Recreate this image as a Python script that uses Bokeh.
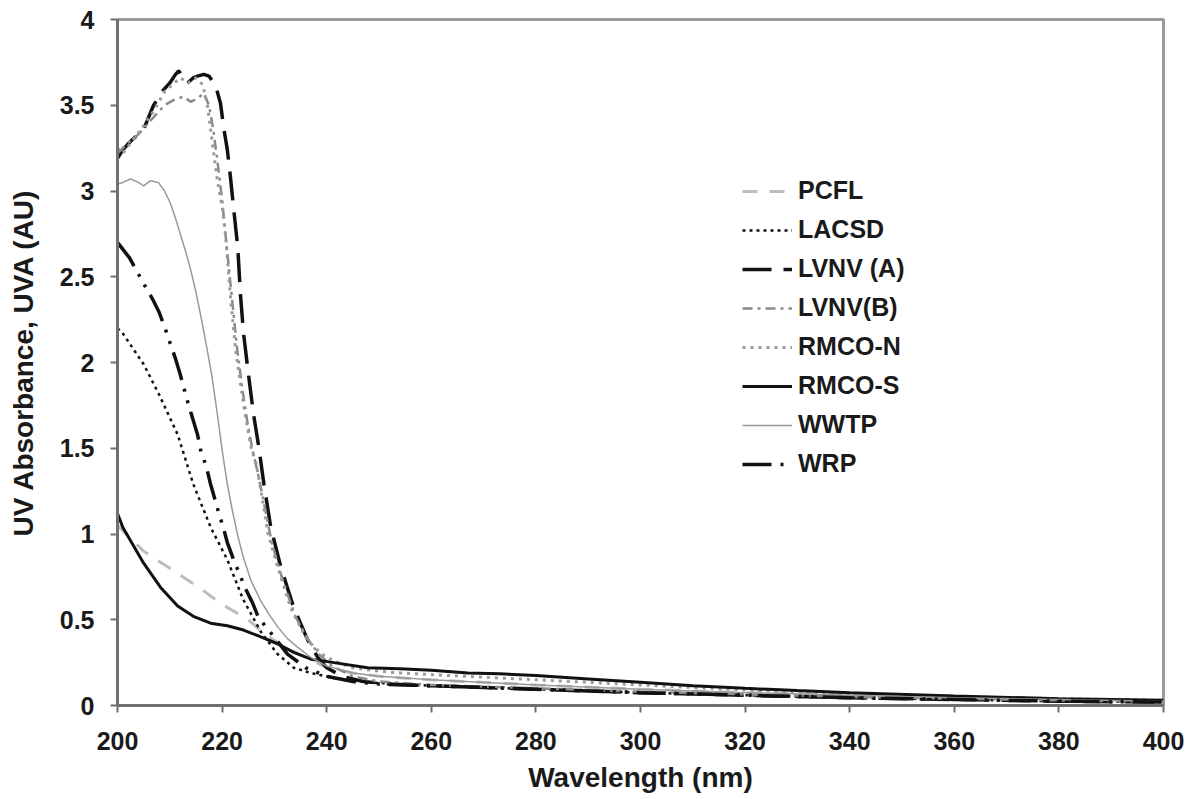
from bokeh.plotting import figure
from bokeh.models import Range1d, FixedTicker, Legend, LegendItem
from bokeh.embed import file_html
from bokeh.resources import INLINE

# ---- data ----
pcfl_x = [200, 202, 205, 210, 215, 220, 225, 228, 232, 236, 240, 245, 250, 260, 280, 300, 320, 340, 360, 380, 400]
pcfl_y = [1.05, 0.99, 0.90, 0.80, 0.70, 0.59, 0.50, 0.42, 0.34, 0.28, 0.22, 0.19, 0.17, 0.15, 0.12, 0.095, 0.075, 0.06, 0.045, 0.035, 0.025]

lacsd_x = [200, 201, 203, 205, 208, 211.5, 214.5, 217.8, 221, 224, 227.4, 230.6, 233.7, 236.9, 241.4, 247.8, 254, 260, 280, 300, 320, 340, 360, 380, 400]
lacsd_y = [2.2, 2.17, 2.08, 1.99, 1.81, 1.58, 1.29, 1.04, 0.85, 0.62, 0.43, 0.30, 0.22, 0.19, 0.16, 0.135, 0.125, 0.115, 0.095, 0.075, 0.06, 0.045, 0.035, 0.025, 0.02]

lvnva_x = [200, 201, 202.5, 204, 205, 206.9, 208.8, 210, 211.1, 211.7, 212.5, 213.4, 214.5, 215.3, 216.5, 217.5, 218.8, 219.7, 220.3, 221,
           221.6, 222.2, 223, 223.5, 224.1, 225, 226, 227, 228, 229.3, 231.2, 233.7, 236.4, 238.3, 240, 243, 247, 252, 260, 280,
           300, 320, 340, 360, 380, 400]
lvnva_y = [3.19, 3.24, 3.29, 3.33, 3.36, 3.50, 3.59, 3.63, 3.68, 3.70, 3.67, 3.63, 3.66, 3.67, 3.68, 3.67, 3.61, 3.51, 3.37, 3.24,
           3.08, 2.90, 2.67, 2.40, 2.17, 1.94, 1.70, 1.51, 1.29, 1.04, 0.81, 0.57, 0.38, 0.28, 0.22, 0.17, 0.14, 0.125, 0.115, 0.095,
           0.075, 0.06, 0.045, 0.035, 0.025, 0.02]

lvnvb_x = [200, 202, 204, 206, 207.8, 209, 210.7, 212.6, 214, 215.3, 216.5, 217.5, 218.3, 219, 220, 220.8, 221.8, 222.8, 223.8, 224.8,
           225.8, 226.8, 228, 229.5, 231.5, 234, 236.5, 238.5, 241, 245, 250, 260, 280, 300, 320, 340, 360, 380, 400]
lvnvb_y = [3.22, 3.28, 3.33, 3.40, 3.46, 3.50, 3.53, 3.55, 3.52, 3.54, 3.57, 3.50, 3.36, 3.20, 2.95, 2.70, 2.40, 2.10, 1.86, 1.66,
           1.49, 1.36, 1.18, 0.95, 0.74, 0.52, 0.38, 0.30, 0.23, 0.17, 0.14, 0.12, 0.10, 0.08, 0.065, 0.05, 0.04, 0.03, 0.02]

rmcon_x = [200, 201, 203, 205, 207, 209, 210.5, 212, 213.5, 215, 216.3, 217.2, 217.8, 218.4, 219.1, 220.1, 220.7, 221.6, 222.6, 223.5,
           224.5, 225.5, 226.6, 227.4, 228.7, 230.6, 233.1, 235.6, 237, 239, 241.4, 245, 250, 254, 260, 270, 280, 300, 320, 340,
           360, 380, 400]
rmcon_y = [3.25, 3.22, 3.30, 3.38, 3.47, 3.58, 3.62, 3.66, 3.63, 3.66, 3.62, 3.50, 3.36, 3.22, 3.06, 2.89, 2.73, 2.38, 2.07, 1.88,
           1.68, 1.51, 1.40, 1.26, 1.01, 0.81, 0.57, 0.42, 0.36, 0.30, 0.26, 0.22, 0.20, 0.19, 0.18, 0.165, 0.15, 0.12, 0.09, 0.07,
           0.05, 0.04, 0.03]

rmcos_x = [200, 201, 202.5, 205, 208.2, 211.5, 214.5, 217.8, 221, 224.1, 227.4, 230.6, 233.7, 237, 241.4, 247.8, 254, 260, 267, 273,
           280, 290, 300, 310, 320, 330, 340, 360, 380, 400]
rmcos_y = [1.12, 1.04, 0.96, 0.83, 0.69, 0.58, 0.52, 0.48, 0.465, 0.44, 0.40, 0.36, 0.31, 0.27, 0.25, 0.22, 0.215, 0.205, 0.19, 0.185,
           0.175, 0.155, 0.135, 0.115, 0.10, 0.087, 0.075, 0.055, 0.04, 0.03]

wwtp_x = [200, 201, 202.5, 204, 205, 206.3, 207.8, 209, 210.1, 211, 212, 213, 214, 215, 216, 217, 218, 219, 220, 221,
          222, 223, 224, 225.5, 227.4, 229, 230.6, 232.5, 234.4, 237, 240, 245, 250, 260, 280, 300, 320, 340, 360, 380, 400]
wwtp_y = [3.04, 3.05, 3.07, 3.05, 3.03, 3.06, 3.05, 3.00, 2.93, 2.85, 2.75, 2.65, 2.54, 2.41, 2.26, 2.10, 1.93, 1.72, 1.49, 1.29,
          1.13, 0.99, 0.87, 0.73, 0.61, 0.53, 0.46, 0.39, 0.34, 0.28, 0.23, 0.19, 0.17, 0.15, 0.12, 0.095, 0.075, 0.06, 0.045,
          0.035, 0.025]

wrp_x = [200, 202.3, 205, 206.7, 208, 209.2, 211, 211.9, 212.8, 213.6, 215.3, 215.9, 217, 217.8, 219.3, 220.3, 221, 222.2, 224.5, 225.8,
         227, 228.9, 232.5, 236, 240, 245, 250, 260, 280, 300, 320, 340, 360, 380, 400]
wrp_y = [2.70, 2.61, 2.46, 2.37, 2.29, 2.19, 2.03, 1.94, 1.84, 1.75, 1.58, 1.49, 1.39, 1.29, 1.13, 1.03, 0.95, 0.85, 0.68, 0.60,
         0.51, 0.44, 0.30, 0.22, 0.17, 0.14, 0.125, 0.115, 0.095, 0.075, 0.06, 0.045, 0.035, 0.025, 0.02]

series_names = ["PCFL", "LACSD", "LVNV (A)", "LVNV(B)", "RMCO-N", "RMCO-S", "WWTP", "WRP"]
x_ticks = [200, 220, 240, 260, 280, 300, 320, 340, 360, 380, 400]
y_ticks = [0, 0.5, 1, 1.5, 2, 2.5, 3, 3.5, 4]
y_tick_labels = ["0", "0.5", "1", "1.5", "2", "2.5", "3", "3.5", "4"]

FONT = "Liberation Sans"
TXT = "#1a1a1a"
AX = "#707070"

p = figure(width=1188, height=799, frame_width=1046, frame_height=686,
           x_range=Range1d(200, 400), y_range=Range1d(0, 4),
           output_backend="svg", toolbar_location=None,
           min_border_left=117, min_border_right=25, min_border_top=19, min_border_bottom=94)
p.outline_line_color = "#9a9a9a"
p.outline_line_width = 3
p.xgrid.visible = False
p.ygrid.visible = False
p.background_fill_color = "white"
p.border_fill_color = "white"

styles = [
    (pcfl_x, pcfl_y, dict(line_color="#bdbdbd", line_width=3, line_dash="15 12")),
    (lacsd_x, lacsd_y, dict(line_color="#111111", line_width=2.5, line_dash="3 4")),
    (lvnva_x, lvnva_y, dict(line_color="#111111", line_width=3.5, line_dash="29 12")),
    (lvnvb_x, lvnvb_y, dict(line_color="#8a8a8a", line_width=2.5, line_dash="10 5 3 5")),
    (rmcon_x, rmcon_y, dict(line_color="#9a9a9a", line_width=3, line_dash="3 5")),
    (rmcos_x, rmcos_y, dict(line_color="#111111", line_width=3)),
    (wwtp_x, wwtp_y, dict(line_color="#999999", line_width=1.5)),
    (wrp_x, wrp_y, dict(line_color="#111111", line_width=3.5, line_dash="29 9 3 9 3 9")),
]

items = []
for name, (xs, ys, st) in zip(series_names, styles):
    r = p.line(xs, ys, **st)
    items.append(LegendItem(label=name, renderers=[r]))

legend = Legend(items=items, location=(625, 227), padding=0, margin=0,
                border_line_color=None, background_fill_alpha=0,
                glyph_width=50, glyph_height=26, label_height=26, spacing=10,
                label_standoff=6,
                label_text_font=FONT, label_text_font_style="bold",
                label_text_font_size="25px", label_text_color=TXT)
p.add_layout(legend, "center")

p.xaxis.ticker = FixedTicker(ticks=x_ticks)
p.yaxis.ticker = FixedTicker(ticks=y_ticks)
p.yaxis.major_label_overrides = {t: l for t, l in zip(y_ticks, y_tick_labels)}
p.xaxis.major_label_overrides = {t: str(t) for t in x_ticks}

for ax in (p.xaxis, p.yaxis):
    ax.axis_line_color = AX
    ax.axis_line_width = 3
    ax.major_tick_line_color = AX
    ax.major_tick_line_width = 2
    ax.major_tick_out = 7
    ax.major_tick_in = 0
    ax.minor_tick_out = 0
    ax.minor_tick_in = 0
    ax.major_label_text_font = FONT
    ax.major_label_text_font_style = "bold"
    ax.major_label_text_font_size = "25px"
    ax.major_label_text_color = TXT
    ax.axis_label_text_font = FONT
    ax.axis_label_text_font_style = "bold"
    ax.axis_label_text_font_size = "28px"
    ax.axis_label_text_color = TXT

p.xaxis.axis_label = "Wavelength (nm)"
p.yaxis.axis_label = "UV Absorbance, UVA (AU)"
p.xaxis.major_label_standoff = 19
p.yaxis.major_label_standoff = 16
p.xaxis.axis_label_standoff = 9
p.yaxis.axis_label_standoff = 18

open("out.html", "w").write(file_html(p, INLINE))
